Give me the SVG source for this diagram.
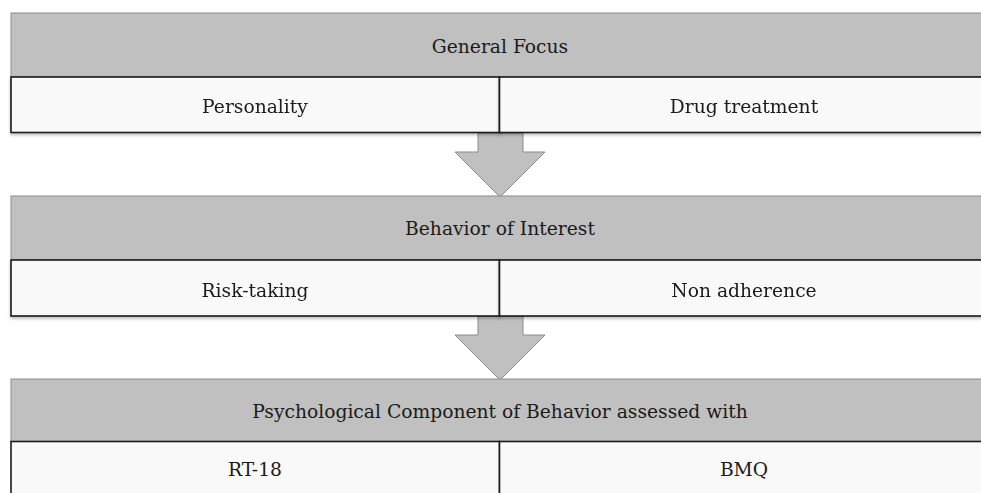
<svg xmlns="http://www.w3.org/2000/svg" width="981" height="493" viewBox="0 0 981 493">
  <style>
    .head { fill: #c0c0c0; stroke: #8c8c8c; stroke-width: 1; }
    .cell { fill: #f9f9f9; stroke: #1a1a1a; stroke-width: 1.6; }
    .arrow { fill: #c0c0c0; stroke: #8a8a8a; stroke-width: 1; }
    text { font-family: "DejaVu Serif", "Liberation Serif", serif; font-size: 18.7px; fill: #1a1a1a; text-anchor: middle; }
  </style>
  <defs>
    <filter id="shadow" x="-5%" y="-20%" width="110%" height="150%">
      <feGaussianBlur in="SourceAlpha" stdDeviation="1.5"/>
      <feOffset dy="2" result="b"/>
      <feComponentTransfer><feFuncA type="linear" slope="0.25"/></feComponentTransfer>
      <feMerge><feMergeNode/><feMergeNode in="SourceGraphic"/></feMerge>
    </filter>
  </defs>
  <rect width="981" height="493" fill="#ffffff"/>

  <!-- connectors: block arrows between tiers -->
  <g id="connectors">
    <polygon class="arrow" points="478,133 523,133 523,152 545,152 500,197 455,152 478,152"/>
    <polygon class="arrow" points="478,316 523,316 523,335 545,335 500,380 455,335 478,335"/>
  </g>

  <!-- tier 1 -->
  <g id="general-focus">
    <rect class="head" x="11" y="13" width="978" height="64"/>
    <text x="500" y="52.5">General Focus</text>
  </g>
  <g id="personality" filter="url(#shadow)">
    <rect class="cell" x="11" y="77" width="488.5" height="55.5"/>
    <text x="255" y="113">Personality</text>
  </g>
  <g id="drug-treatment" filter="url(#shadow)">
    <rect class="cell" x="499.5" y="77" width="489.5" height="55.5"/>
    <text x="744" y="113">Drug treatment</text>
  </g>

  <!-- tier 2 -->
  <g id="behavior-of-interest">
    <rect class="head" x="11" y="196" width="978" height="64"/>
    <text x="500" y="235">Behavior of Interest</text>
  </g>
  <g id="risk-taking" filter="url(#shadow)">
    <rect class="cell" x="11" y="260" width="488.5" height="56"/>
    <text x="255" y="297">Risk-taking</text>
  </g>
  <g id="non-adherence" filter="url(#shadow)">
    <rect class="cell" x="499.5" y="260" width="489.5" height="56"/>
    <text x="744" y="297">Non adherence</text>
  </g>

  <!-- tier 3 -->
  <g id="psychological-component">
    <rect class="head" x="11" y="379" width="978" height="62.5"/>
    <text x="500" y="417.5">Psychological Component of Behavior assessed with</text>
  </g>
  <g id="rt-18">
    <rect class="cell" x="11" y="441.5" width="488.5" height="60"/>
    <text x="255" y="476">RT-18</text>
  </g>
  <g id="bmq">
    <rect class="cell" x="499.5" y="441.5" width="489.5" height="60"/>
    <text x="744" y="476">BMQ</text>
  </g>
</svg>
